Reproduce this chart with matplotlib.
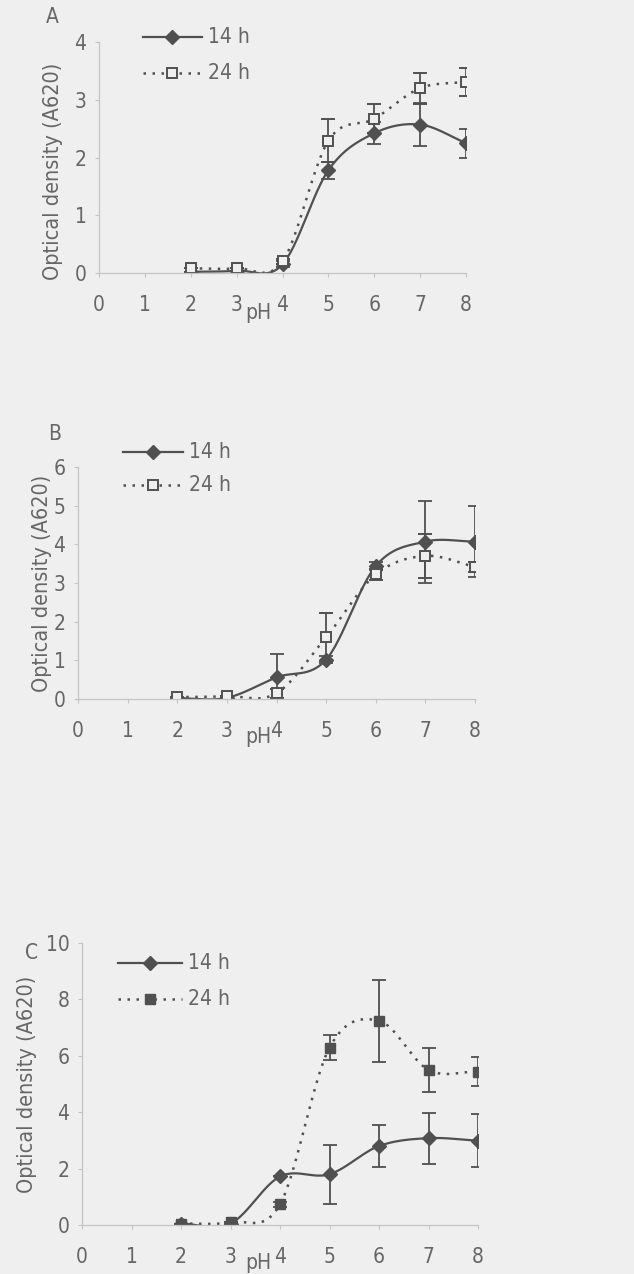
import numpy as np
import matplotlib
matplotlib.use("Agg")
from matplotlib import pyplot as plt
from matplotlib import font_manager
from matplotlib.lines import Line2D

# narrow sans if one is installed, otherwise the usual Arial look-alike
installed = [f for f in font_manager.fontManager.ttflist]
names = {f.name for f in installed}
narrow = [n for n in ['Liberation Sans Narrow', 'Arial Narrow'] if n in names]
stretch = 'normal'
if not narrow and any(f.name == 'DejaVu Sans' and f.stretch == 'condensed' for f in installed):
    narrow = ['DejaVu Sans']
    stretch = 'condensed'
plt.rcParams['font.family'] = narrow + ['Liberation Sans', 'DejaVu Sans']
plt.rcParams['font.stretch'] = stretch

# pH values
ph = [2, 3, 4, 5, 6, 7, 8]

# panel A
a_14 = [0.02, 0.04, 0.15, 1.78, 2.42, 2.57, 2.25]
a_14_err = [0.0, 0.0, 0.05, 0.15, 0.19, 0.37, 0.25]
a_24 = [0.08, 0.08, 0.20, 2.29, 2.67, 3.20, 3.31]
a_24_err = [0.0, 0.0, 0.05, 0.37, 0.25, 0.27, 0.24]

# panel B
b_14 = [0.02, 0.03, 0.56, 1.02, 3.44, 4.07, 4.07]
b_14_err = [0.0, 0.0, 0.60, 0.10, 0.10, 1.06, 0.92]
b_24 = [0.05, 0.07, 0.15, 1.60, 3.22, 3.70, 3.42]
b_24_err = [0.0, 0.0, 0.12, 0.62, 0.15, 0.58, 0.13]

# panel C
c_14 = [0.05, 0.05, 1.72, 1.80, 2.80, 3.08, 2.99]
c_14_err = [0.0, 0.0, 0.0, 1.05, 0.73, 0.90, 0.95]
c_24 = [0.05, 0.10, 0.73, 6.29, 7.24, 5.50, 5.44]
c_24_err = [0.0, 0.0, 0.10, 0.43, 1.45, 0.77, 0.50]

W, H = 634, 1274
ink = '#505050'
txt = '#666666'
bg = '#efefef'


def smooth(x, y, n=30):
    # catmull-rom curve through the points (like a spreadsheet "smoothed line")
    x = np.asarray(x, float)
    y = np.asarray(y, float)
    px = np.concatenate([[2 * x[0] - x[1]], x, [2 * x[-1] - x[-2]]])
    py = np.concatenate([[2 * y[0] - y[1]], y, [2 * y[-1] - y[-2]]])
    xs, ys = [], []
    t = np.linspace(0, 1, n)
    for i in range(1, len(px) - 2):
        p0, p1, p2, p3 = px[i - 1], px[i], px[i + 1], px[i + 2]
        q0, q1, q2, q3 = py[i - 1], py[i], py[i + 1], py[i + 2]
        bx = [p1, p1 + (p2 - p0) / 6, p2 - (p3 - p1) / 6, p2]
        by = [q1, q1 + (q2 - q0) / 6, q2 - (q3 - q1) / 6, q2]
        c = [(1 - t) ** 3, 3 * (1 - t) ** 2 * t, 3 * (1 - t) * t ** 2, t ** 3]
        xs.append(sum(c[k] * bx[k] for k in range(4)))
        ys.append(sum(c[k] * by[k] for k in range(4)))
    return np.concatenate(xs), np.concatenate(ys)


def fx(px):
    return px / W


def fy(py):
    return 1 - py / H


def panel(rect, ymax, ystep, s14, e14, s24, e24, letter, letter_xy,
          leg_x, leg_y, filled, ylab_x, ylab_y, xlab_x, xlab_y):
    left, top, right, bottom = rect
    ax = fig.add_axes([fx(left), fy(bottom), fx(right - left), (bottom - top) / H])
    ax.set_facecolor('none')

    sx, sy = smooth(ph, s14)
    ax.plot(sx, sy, color=ink, lw=1.6, solid_capstyle='round')
    sx, sy = smooth(ph, s24)
    ax.plot(sx, sy, color=ink, lw=1.8, ls=(0, (1, 2.6)))

    ax.errorbar(ph, s14, yerr=e14, fmt='D', color=ink, ms=7, capsize=5,
                elinewidth=1.3, capthick=1.3)
    if filled:
        ax.errorbar(ph, s24, yerr=e24, fmt='s', color=ink, ms=7, capsize=5,
                    elinewidth=1.3, capthick=1.3)
    else:
        ax.errorbar(ph, s24, yerr=e24, fmt='s', color=ink, mfc=bg, mew=1.4,
                    ms=7, capsize=5, elinewidth=1.3, capthick=1.3)

    ax.set_xlim(0, 8)
    ax.set_ylim(0, ymax)
    ax.set_xticks(range(0, 9))
    ax.set_yticks(np.arange(0, ymax + 0.01, ystep))
    ax.set_yticklabels([str(int(v)) for v in np.arange(0, ymax + 0.01, ystep)])
    for sp in ['top', 'right']:
        ax.spines[sp].set_visible(False)
    for sp in ['left', 'bottom']:
        ax.spines[sp].set_color('#c4c4c4')
        ax.spines[sp].set_linewidth(0.9)
    ax.tick_params(axis='x', length=3, color='#c4c4c4', pad=13,
                   labelsize=15, labelcolor=txt)
    ax.tick_params(axis='y', length=3, color='#c4c4c4', pad=6,
                   labelsize=15, labelcolor=txt)
    ax.set_xlabel('pH', fontsize=15, color=txt)
    ax.xaxis.set_label_coords(xlab_x, xlab_y)
    ax.set_ylabel('Optical density (A620)', fontsize=15.5, color=txt)
    ax.yaxis.set_label_coords(ylab_x, ylab_y)

    fig.text(fx(letter_xy[0]), fy(letter_xy[1]), letter, fontsize=15,
             color=txt, ha='center', va='center')

    # legend drawn by hand: short line with a marker in the middle
    x0, x1 = leg_x
    xm = (x0 + x1) / 2
    y0, y1 = leg_y
    fig.add_artist(Line2D([fx(x0), fx(x1)], [fy(y0), fy(y0)], color=ink, lw=1.6))
    fig.add_artist(Line2D([fx(xm)], [fy(y0)], marker='D', color=ink, ms=7))
    fig.add_artist(Line2D([fx(x0), fx(x1)], [fy(y1), fy(y1)], color=ink, lw=1.8,
                          ls=(0, (1, 2.6))))
    if filled:
        fig.add_artist(Line2D([fx(xm)], [fy(y1)], marker='s', color=ink, ms=7))
    else:
        fig.add_artist(Line2D([fx(xm)], [fy(y1)], marker='s', color=ink, mfc=bg,
                              mew=1.4, ms=7))
    fig.text(fx(x1 + 6), fy(y0), '14 h', fontsize=15, color=txt, va='center')
    fig.text(fx(x1 + 6), fy(y1), '24 h', fontsize=15, color=txt, va='center')
    return ax


fig = plt.figure(figsize=(W / 100, H / 100), dpi=100)
fig.patch.set_facecolor(bg)

panel((99, 42, 466, 273), 4, 1, a_14, a_14_err, a_24, a_24_err,
      'A', (52, 17), (143, 202), (37, 73), False, -0.098, 0.44, 0.433, -0.13)
panel((78, 467, 475, 699), 6, 1, b_14, b_14_err, b_24, b_24_err,
      'B', (55, 434), (123, 183), (452, 485), False, -0.065, 0.5, 0.454, -0.122)
panel((82, 943, 478, 1225), 10, 2, c_14, c_14_err, c_24, c_24_err,
      'C', (32, 953), (118, 182), (963, 999), True, -0.114, 0.5, 0.445, -0.098)

fig.savefig('out.png', dpi=100, facecolor=bg)
